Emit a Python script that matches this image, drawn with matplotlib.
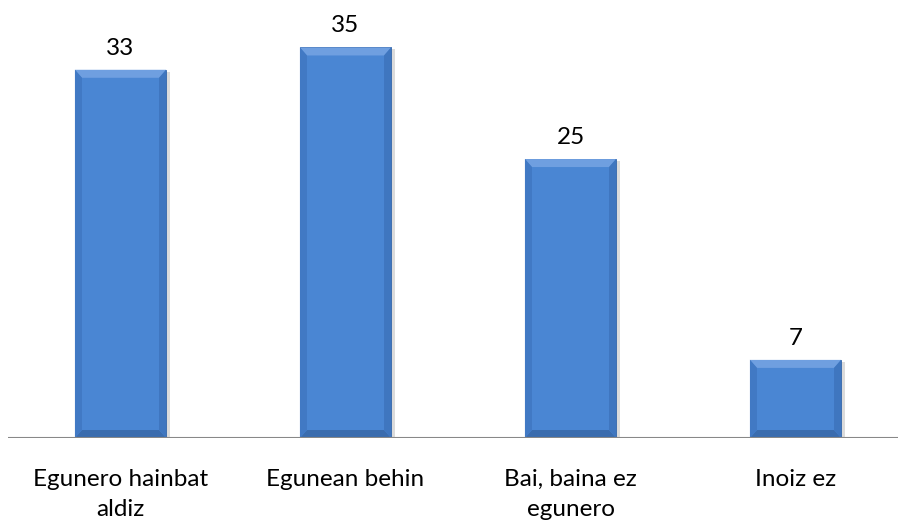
import numpy as np
import matplotlib.pyplot as plt
from matplotlib.patches import Polygon, Rectangle

categories = ["Egunero hainbat\naldiz", "Egunean behin", "Bai, baina ez\negunero", "Inoiz ez"]
values = [33, 35, 25, 7]

plt.rcParams["font.family"] = ["Lato", "DejaVu Sans"]

fig = plt.figure(figsize=(8.98, 5.24), dpi=100)
# axes placed in pixel terms: baseline at 438 px from top
ax = fig.add_axes([8 / 898, 86 / 524, 900 / 898, 424 / 524])
ax.set_xlim(-0.5, 3.5)
ax.set_ylim(0, 38)

x = np.arange(len(values))
w = 0.405
face = "#4a86d3"

# px -> data scales
sx = 4.0 / 900
sy = 38.0 / 424
bx = 7 * sx
by = 8 * sy

for xi, v in zip(x, values):
    l, r = xi - w / 2, xi + w / 2
    # soft shadow
    ax.add_patch(Rectangle((l + 2 * sx, 0), w + 2 * sx, v - 2 * sy, color="#888888", alpha=0.3, lw=0, zorder=1))
    ax.bar(xi, v, width=w, color=face, edgecolor="#3465a8", linewidth=0.6, zorder=2)
    # bevel facets
    ax.add_patch(Polygon([(l, v), (r, v), (r - bx, v - by), (l + bx, v - by)], color="#6f9fe0", lw=0, zorder=3))
    ax.add_patch(Polygon([(l, 0), (r, 0), (r - bx, by), (l + bx, by)], color="#3a6cae", lw=0, zorder=3))
    ax.add_patch(Polygon([(l, 0), (l, v), (l + bx, v - by), (l + bx, by)], color="#4179c4", lw=0, zorder=3))
    ax.add_patch(Polygon([(r, 0), (r, v), (r - bx, v - by), (r - bx, by)], color="#3f76bf", lw=0, zorder=3))
    ax.text(xi, v + 1.0, str(v), ha="center", va="bottom", fontsize=17.5, color="black")

ax.axhline(0, color="#888888", lw=1.5, zorder=4)
ax.set_xticks(x)
ax.set_xticklabels(categories, fontsize=17.5, linespacing=1.55, multialignment="center")
ax.tick_params(axis="x", length=0, pad=22)
ax.set_yticks([])
for s in ax.spines.values():
    s.set_visible(False)

fig.savefig("out.png", dpi=100)
